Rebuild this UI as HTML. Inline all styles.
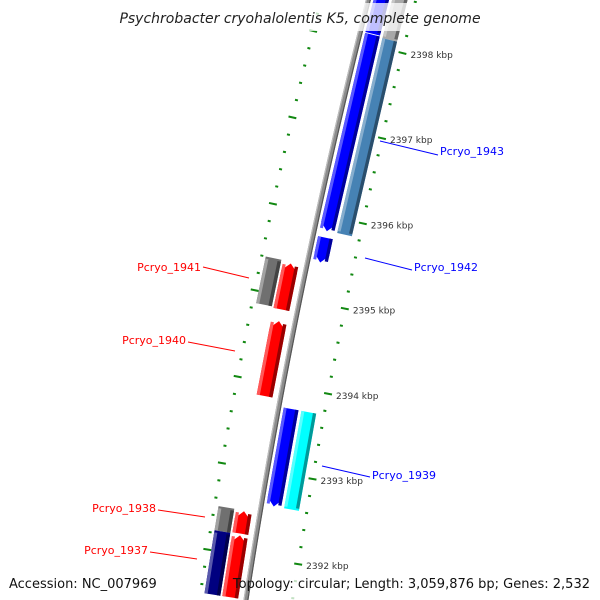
<!DOCTYPE html>
<html><head><meta charset="utf-8">
<style>
html,body{margin:0;padding:0;background:#fff;overflow:hidden;}
svg{display:block;font-family:"DejaVu Sans","Liberation Sans",sans-serif;}
</style></head>
<body>
<svg id="chart" width="600" height="600" viewBox="0 0 600 600" xmlns="http://www.w3.org/2000/svg">
<g id="ticks"></g>
<g id="strip"></g>
<g id="labels"></g>
<rect x="0" y="3" width="600" height="28" fill="#fff" fill-opacity="0.75"/>
<text x="300" y="23" text-anchor="middle" font-size="14" font-style="italic" fill="#222">Psychrobacter cryohalolentis K5, complete genome</text>
<rect x="0" y="571" width="162" height="29" fill="#fff" fill-opacity="0.75"/>
<rect x="257" y="571" width="343" height="29" fill="#fff" fill-opacity="0.75"/>
<text x="9" y="588" font-size="13" fill="#111">Accession: NC_007969</text>
<text x="590" y="588" text-anchor="end" font-size="13" fill="#111">Topology: circular; Length: 3,059,876 bp; Genes: 2,532</text>
</svg>
<script>
// data
const tickKbp = [2398, 2397, 2396, 2395, 2394, 2393, 2392];
const geneNames = ["top-fwd","top-fwd-outer","Pcryo_1943","Pcryo_1943-cds","Pcryo_1942","Pcryo_1941-outer","Pcryo_1941","Pcryo_1940","Pcryo_1939","Pcryo_1939-cds","Pcryo_1938-outer","Pcryo_1938","Pcryo_1937-outer","Pcryo_1937"];
const geneStart = [2398800,2398800,2398120,2398110,2395750,2395400,2395380,2394710,2393750,2393750,2392510,2392500,2392230,2392220];
const geneEnd   = [2398130,2398110,2395825,2395830,2395460,2394860,2394846,2393840,2392610,2392610,2392230,2392240,2391500,2391500];
const geneLane  = ["f1","f2","f1","f2","f1","r2","r1","r1","f1","f2","r2","r1","r2","r1"];
const geneArrow = [0,0,1,0,1,0,1,1,1,0,0,1,0,1];
const geneColor = ["#0000ff","#a8a8a8","#0000ff","#4682b4","#0000ff","#707070","#ff0000","#ff0000","#0000ff","#00ffff","#707070","#ff0000","#000080","#ff0000"];
const labelText = ["Pcryo_1943","Pcryo_1942","Pcryo_1941","Pcryo_1940","Pcryo_1939","Pcryo_1938","Pcryo_1937"];
const labelColor = ["#0000ff","#0000ff","#ff0000","#ff0000","#0000ff","#ff0000","#ff0000"];
const labelX = [440,414,201,186,372,156,148];
const labelY = [155,271,271,344,479,512,554];
const labelAnchor = ["start","start","end","end","start","end","end"];
const leaderX1 = [380,365,203,188,322,158,150];
const leaderY1 = [141,258,267,342,466,510,552];
const leaderX2 = [438,412,249,235,370,205,197];
const leaderY2 = [155,270,278,351,477,517,559];

const NS = "http://www.w3.org/2000/svg";
function mk(tag, attrs, parent){const e=document.createElementNS(NS,tag);for(const k in attrs)e.setAttribute(k,attrs[k]);parent.appendChild(e);return e;}
// axis functions: backbone is a gentle arc X(Y)
function bX(Y){return 368.3-0.2539*Y+0.0000833*Y*Y;}
function bSlope(Y){return -0.2539+2*0.0000833*Y;}
function yOfBp(bp){return 42+85.8*(2398000-bp)/1000;}
function pos(Y0,d){const s=bSlope(Y0);const n=Math.sqrt(1+s*s);return [bX(Y0)+d/n, Y0-d*s/n];}
function normal(Y0){const s=bSlope(Y0);const n=Math.sqrt(1+s*s);return [1/n,-s/n];}
const lanes={f1:[5,20],f2:[23,38],r1:[-24,-8],r2:[-42,-26]};

function shade(hex,f){const n=parseInt(hex.slice(1),16);let r=n>>16,g=(n>>8)&255,b=n&255;
 if(f>0){r+=(255-r)*f;g+=(255-g)*f;b+=(255-b)*f;}else{r*=1+f;g*=1+f;b*=1+f;}
 return `rgb(${Math.round(r)},${Math.round(g)},${Math.round(b)})`;}
function ptsStr(a){return a.map(p=>p[0].toFixed(2)+','+p[1].toFixed(2)).join(' ');}

const strip=document.getElementById('strip');
// backbone
function band(y0,y1,d0,d1){const a=[],b=[];for(let y=y0;y<=y1;y+=20){a.push(pos(y,d0));b.unshift(pos(y,d1));}return a.concat(b);}
const bb=mk('polygon',{points:ptsStr(band(-20,620,-2.5,2.5)),fill:'#8c8c8c'},strip);


const bbl=mk('polygon',{points:ptsStr(band(-20,620,-2.5,-1.3)),fill:'#bdbdbd'},strip);


const bbd=mk('polygon',{points:ptsStr(band(-20,620,1.3,2.5)),fill:'#555'},strip);



// genes
function geneShape(y0,y1,x0,x1,arrow,fwd){
 const h=8, xm=(x0+x1)/2;
 if(arrow&&fwd) return [pos(y0,x0),pos(y0,x1),pos(y1-h,x1),pos(y1,xm),pos(y1-h,x0)];
 if(arrow) return [pos(y0,xm),pos(y0+h,x1),pos(y1,x1),pos(y1,x0),pos(y0+h,x0)];
 return [pos(y0,x0),pos(y0,x1),pos(y1,x1),pos(y1,x0)];
}
for(let i=0;i<geneNames.length;i++){
 const [x0,x1]=lanes[geneLane[i]];
 const y0=yOfBp(geneStart[i]), y1=yOfBp(geneEnd[i]);
 const fwd=geneLane[i][0]==='f';
 const w=x1-x0, c=geneColor[i];
 const p=mk('polygon',{points:ptsStr(geneShape(y0,y1,x0,x1,geneArrow[i],fwd)),fill:c},strip);
 
 
 const hl=mk('polygon',{points:ptsStr(geneShape(y0+(fwd?0:2),y1-(fwd?2:0),x0,x0+w*0.2,0,fwd)),fill:shade(c,0.35)},strip);
 
 
 const dk=mk('polygon',{points:ptsStr(geneShape(y0+(fwd?0:2),y1-(fwd?2:0),x1-w*0.22,x1,0,fwd)),fill:shade(c,-0.4)},strip);
 
 
}

// ticks
const tg=document.getElementById('ticks');
for(let k=-3;k<=33;k++){
 const bp=2398000-k*200; const major=(k%5===0);
 const Y0=yOfBp(bp); const L=major?4:1.5; const nv=normal(Y0);
 [[46,'right'],[-46,'left']].forEach(([d,side])=>{
  const [x,y]=pos(Y0,d);
  if(y<-5||y>605) return;
  const ln=mk('line',{x1:x-nv[0]*L,y1:y-nv[1]*L,x2:x+nv[0]*L,y2:y+nv[1]*L,stroke:'#118811',"stroke-width":2},tg);
  
  
 });
}
tickKbp.forEach(kb=>{
 const Y0=yOfBp(kb*1000); const [x,y]=pos(Y0,46);
 const tx=mk('text',{x:x+8,y:y+5,"font-size":"9",fill:'#333'},tg);
 tx.textContent=kb+' kbp';
 
 
});

// labels
const lg=document.getElementById('labels');
for(let i=0;i<labelText.length;i++){
 const l=mk('line',{x1:leaderX1[i],y1:leaderY1[i],x2:leaderX2[i],y2:leaderY2[i],stroke:labelColor[i],"stroke-width":1},lg);
 
 
 const t=mk('text',{x:labelX[i],y:labelY[i],"text-anchor":labelAnchor[i],"font-size":"11",fill:labelColor[i]},lg);
 t.textContent=labelText[i];
 
 
}
</script>
</body></html>
